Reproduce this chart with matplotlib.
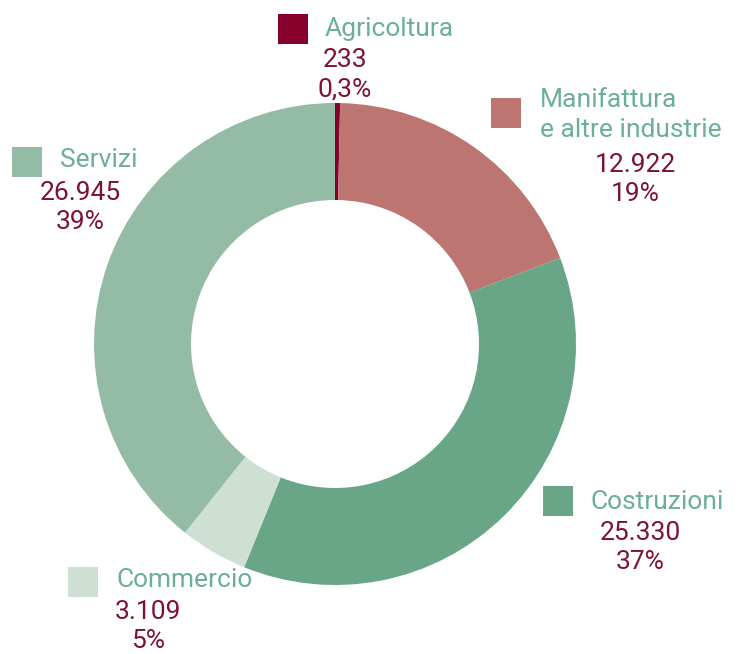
import matplotlib
matplotlib.use('Agg')
from matplotlib import pyplot as plt
from matplotlib.patches import Rectangle

# sectors, clockwise from 12 o'clock
sectors = ['Agricoltura', 'Manifattura\ne altre industrie', 'Costruzioni',
           'Commercio', 'Servizi']
workers = [233, 12922, 25330, 3109, 26945]
value_labels = ['233', '12.922', '25.330', '3.109', '26.945']
pct_labels = ['0,3%', '19%', '37%', '5%', '39%']
colors = ['#86002B', '#BC7571', '#68A687', '#CEDFD4', '#93BBA5']

NAME_COLOR = '#6BAE9C'
NUM_COLOR = '#7E1236'
H = 654


def main():
    fig = plt.figure(figsize=(7.39, 6.54), dpi=100)
    ax = fig.add_axes([0, 0, 1, 1])
    ax.set_xlim(0, 739)
    ax.set_ylim(0, H)
    ax.set_aspect('equal')
    ax.axis('off')

    ax.pie(workers, colors=colors, startangle=90, counterclock=False,
           center=(335, H - 344), radius=241,
           wedgeprops=dict(width=97, linewidth=0))
    ax.set_xlim(0, 739)
    ax.set_ylim(0, H)

    # (square left, square top, name left, name y, numbers center x, value y)
    layout = [
        (278, 14, 325, 29, 345, 60),
        (491, 98, 540, 100, 635, 165),
        (543, 486, 590, 502, 640, 533),
        (68, 567, 117, 580, 148, 612),
        (12, 147, 60, 160, 80, 193),
    ]
    font = 'Roboto'
    fs = 19
    for i, (sx, sy, nx, ny, cx, vy) in enumerate(layout):
        ax.add_patch(Rectangle((sx, H - sy - 30), 30, 30, color=colors[i],
                               linewidth=0))
        name_lines = sectors[i].split('\n')
        for j, line in enumerate(name_lines):
            ax.text(nx, H - ny - 30 * j, line, color=NAME_COLOR, fontsize=fs,
                    family=font, ha='left', va='center')
        ax.text(cx, H - vy, value_labels[i], color=NUM_COLOR, fontsize=fs,
                family=font, ha='center', va='center')
        ax.text(cx, H - vy - 29, pct_labels[i], color=NUM_COLOR, fontsize=fs,
                family=font, ha='center', va='center')

    fig.savefig('out.png', dpi=100, facecolor='white')


if __name__ == '__main__':
    main()
